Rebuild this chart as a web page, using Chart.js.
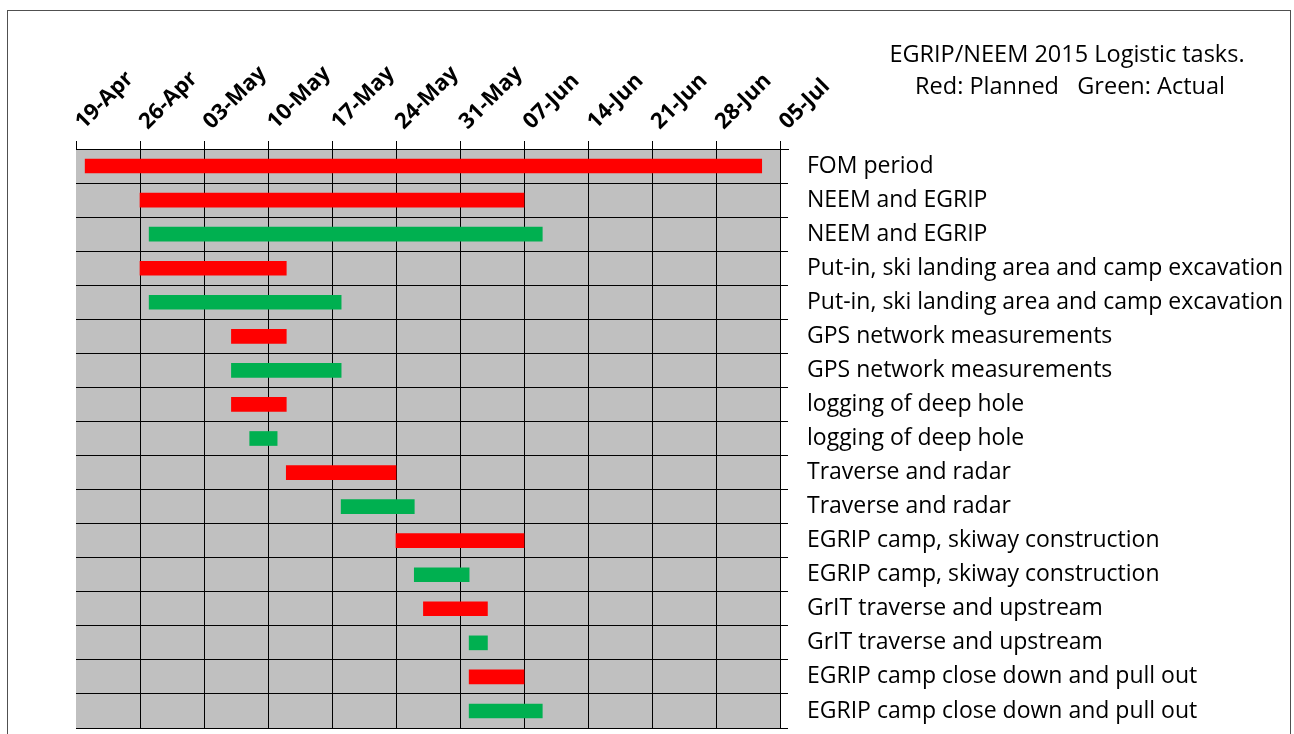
<!DOCTYPE html>
<html>
<head>
<meta charset="utf-8">
<script src="https://cdn.jsdelivr.net/npm/chart.js@4/dist/chart.umd.min.js"></script>
<style>
  html, body { margin: 0; padding: 0; background: #ffffff; overflow: hidden; }
  #frame { position: absolute; left: 7px; top: 10px; width: 1284px; height: 800px; border: 1px solid #505050; box-sizing: border-box; }
  #wrap { position: absolute; left: 0; top: 0; width: 1294px; height: 734px; }
</style>
</head>
<body>
<div id="frame"></div>
<div id="wrap"><canvas id="c"></canvas></div>
<script>
const originDate = "2015-04-19";
const tickLabels = ["19-Apr","26-Apr","03-May","10-May","17-May","24-May","31-May","07-Jun","14-Jun","21-Jun","28-Jun","05-Jul"];
const rowLabels = [
  "FOM period",
  "NEEM and EGRIP",
  "NEEM and EGRIP",
  "Put-in, ski landing area and camp excavation",
  "Put-in, ski landing area and camp excavation",
  "GPS network measurements",
  "GPS network measurements",
  "logging of deep hole",
  "logging of deep hole",
  "Traverse and radar",
  "Traverse and radar",
  "EGRIP camp, skiway construction",
  "EGRIP camp, skiway construction",
  "GrIT traverse and upstream",
  "GrIT traverse and upstream",
  "EGRIP camp close down and pull out",
  "EGRIP camp close down and pull out"
];
const plannedStart = ["2015-04-20","2015-04-26",null,"2015-04-26",null,"2015-05-06",null,"2015-05-06",null,"2015-05-12",null,"2015-05-24",null,"2015-05-27",null,"2015-06-01",null];
const plannedEnd   = ["2015-07-03","2015-06-07",null,"2015-05-12",null,"2015-05-12",null,"2015-05-12",null,"2015-05-24",null,"2015-06-07",null,"2015-06-03",null,"2015-06-07",null];
const actualStart  = [null,null,"2015-04-27",null,"2015-04-27",null,"2015-05-06",null,"2015-05-08",null,"2015-05-18",null,"2015-05-26",null,"2015-06-01",null,"2015-06-01"];
const actualEnd    = [null,null,"2015-06-09",null,"2015-05-18",null,"2015-05-18",null,"2015-05-11",null,"2015-05-26",null,"2015-06-01",null,"2015-06-03",null,"2015-06-09"];
const titleLines = ["EGRIP/NEEM 2015 Logistic tasks.", "Red: Planned   Green: Actual"];

const DAY = 86400000;
const t0 = Date.parse(originDate);
const toDay = d => (Date.parse(d) - t0) / DAY;
const spans = (s, e) => s.map((v, i) => (v && e[i]) ? [toDay(v), toDay(e[i])] : null);

const bgPlugin = {
  id: 'bg',
  beforeDraw(chart) {
    const {ctx, chartArea: a} = chart;
    ctx.save();
    ctx.fillStyle = '#C0C0C0';
    ctx.fillRect(a.left, a.top, a.right - a.left, a.bottom - a.top);
    ctx.restore();
  },
  afterDraw(chart) {
    const ctx = chart.ctx;
    const a = chart.chartArea;
    ctx.save();
    ctx.strokeStyle = '#000';
    ctx.lineWidth = 1;
    ctx.beginPath();
    ctx.moveTo(a.right, a.top + 0.5);
    ctx.lineTo(a.right + 9, a.top + 0.5);
    ctx.stroke();
    ctx.fillStyle = '#000';
    ctx.font = '23.5px "Open Sans"';
    ctx.textAlign = 'center';
    ctx.textBaseline = 'middle';
    ctx.fillText(titleLines[0], 1067, 55);
    ctx.fillText(titleLines[1], 1070, 87);
    ctx.restore();
  }
};

new Chart(document.getElementById('c'), {
  type: 'bar',
  data: {
    labels: rowLabels,
    datasets: [
      { label: 'Planned', data: spans(plannedStart, plannedEnd), backgroundColor: '#FF0000', grouped: false, barThickness: 14 },
      { label: 'Actual', data: spans(actualStart, actualEnd), backgroundColor: '#00B050', grouped: false, barThickness: 14 }
    ]
  },
  options: {
    indexAxis: 'y',
    responsive: true,
    maintainAspectRatio: false,
    animation: false,
    layout: { padding: { left: 76, right: 0, top: 0, bottom: 6 } },
    plugins: { legend: { display: false }, tooltip: { enabled: false } },
    scales: {
      x: {
        type: 'linear',
        position: 'top',
        min: 0,
        max: 77,
        afterFit(s) { s.height = 149; },
        afterBuildTicks(s) { s.ticks = tickLabels.map((_, i) => ({ value: i * 7 })); },
        border: { display: true, color: '#000', width: 1 },
        grid: {
          color: ctx => ctx.index === 0 ? 'rgba(0,0,0,0)' : '#000',
          tickColor: '#000',
          lineWidth: 1,
          tickLength: 8
        },
        ticks: {
          autoSkip: false,
          minRotation: 45,
          maxRotation: 45,
          padding: 6,
          labelOffset: 22,
          color: '#000',
          font: { family: '"Open Sans"', size: 22, weight: 'bold' },
          callback: v => tickLabels[Math.round(v / 7)]
        }
      },
      y: {
        type: 'category',
        position: 'right',
        offset: true,
        afterFit(s) { s.width = 514; s.paddingTop = 0; s.paddingBottom = 0; },
        border: { display: true, color: '#000', width: 1 },
        grid: {
          offset: true,
          color: ctx => ctx.index >= rowLabels.length ? 'rgba(0,0,0,0)' : '#000',
          tickColor: '#000',
          lineWidth: 1,
          tickLength: 8
        },
        ticks: {
          autoSkip: false,
          padding: 19,
          color: '#000',
          font: { family: '"Open Sans"', size: 23 }
        }
      }
    }
  },
  plugins: [bgPlugin]
});
</script>
</body>
</html>
